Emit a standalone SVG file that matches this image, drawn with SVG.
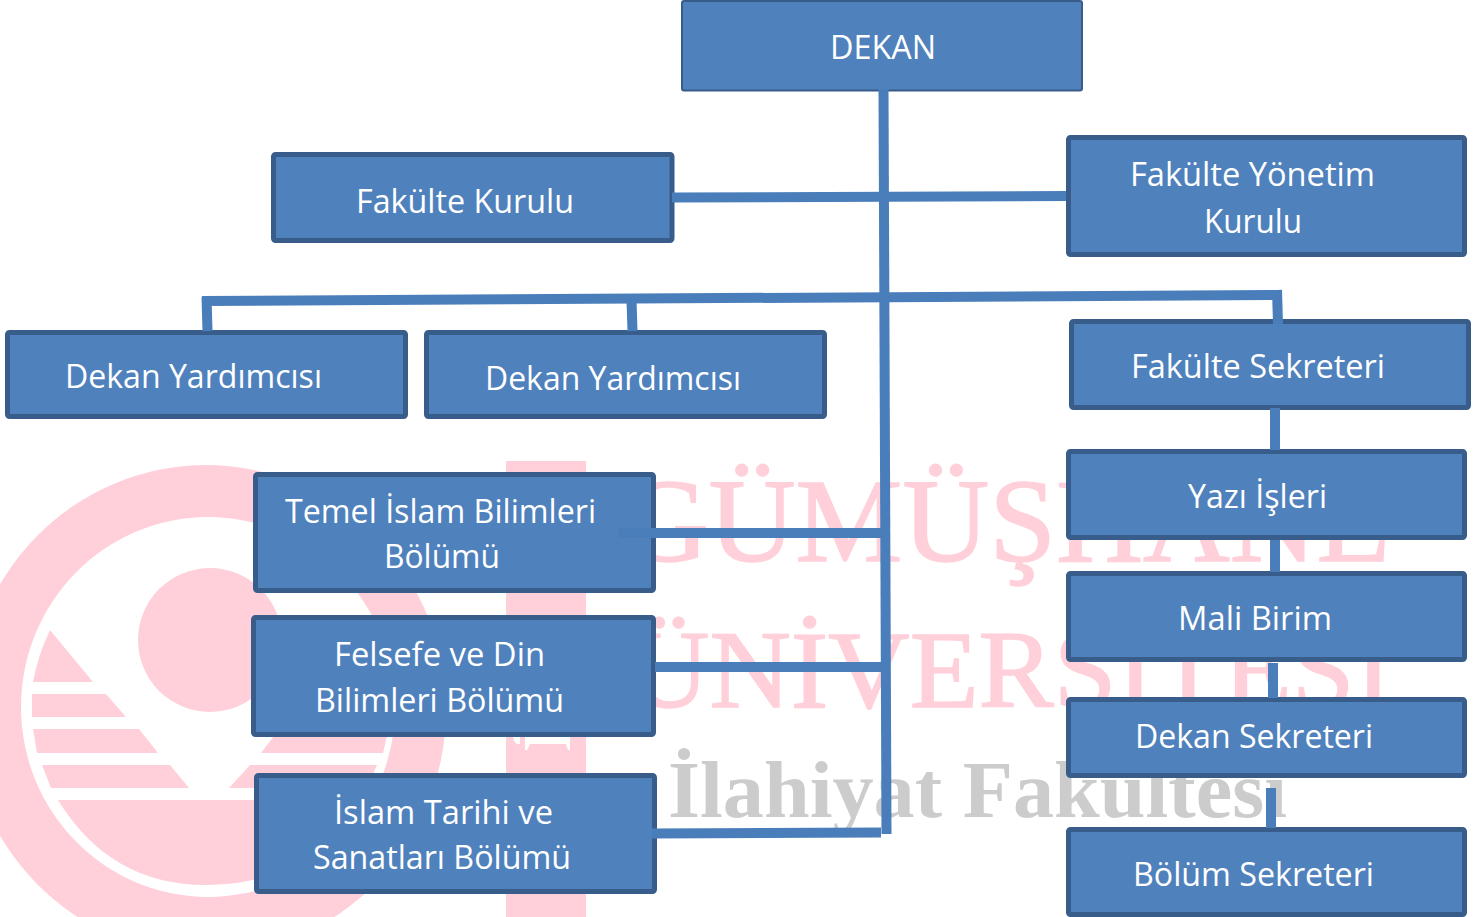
<svg xmlns="http://www.w3.org/2000/svg" width="1484" height="917" viewBox="0 0 1484 917">
<style>
.box{fill:#4f81bd;stroke:#385d8a;stroke-width:5;rx:2px}
.thin{stroke-width:2}
.lbl{font-family:"Open Sans","Liberation Sans",sans-serif;font-size:32px;fill:#fff}
.c{stroke:#4a7ebb;stroke-width:10;fill:none}
.wm{fill:#ffd0da}
.wt{font-family:"Liberation Serif",serif;fill:#ffd0da;stroke:#ffd0da;stroke-width:1.500}
</style>
<rect width="1484" height="917" fill="#fff"/>
<g id="watermark">
<ellipse class="wm" cx="206" cy="710" rx="240" ry="245"/>
<ellipse cx="208" cy="707" rx="187" ry="190" fill="#fff"/>
<circle class="wm" cx="210" cy="640" r="72"/>
<path class="wm" d="M50 630L93 682H33Q38 655 50 630Z"/>
<path class="wm" d="M32 694H106L126 717H32Z"/>
<path class="wm" d="M33 729H139L158 753H37Z"/>
<path class="wm" d="M42 765H170L189 788H51Z"/>
<path class="wm" d="M261 753L290 715H392L383 753Z"/>
<path class="wm" d="M250 765H377L367 788H229Z"/>
<path class="wm" d="M58 800H358Q310 885 206 885Q110 885 58 800Z"/>
<rect class="wm" x="506" y="461" width="80" height="456"/>
<path fill="#fff" d="M513 737H520V744Q514 745 513 737ZM525 737H570V750H568L566 744H530L527 750H525Z"/>
<text class="wt" x="622" y="561" font-size="119" textLength="768" lengthAdjust="spacingAndGlyphs">GÜMÜŞHANE</text>
<text class="wt" x="628" y="707" font-size="110" textLength="764" lengthAdjust="spacingAndGlyphs">ÜNİVERSİTESİ</text>
<text x="668" y="817" font-family="Liberation Serif,serif" font-weight="bold" font-size="80" fill="#ccc" textLength="619" lengthAdjust="spacingAndGlyphs">İlahiyat Fakültesi</text>
</g>
<g id="node-dekan"><rect class="box thin" x="682" y="1" width="400" height="89.5"/><text class="lbl" x="830" y="59" textLength="106" lengthAdjust="spacingAndGlyphs">DEKAN</text></g>
<g id="node-fakulte-kurulu"><rect class="box" x="273.500" y="154.500" width="398.500" height="86"/><text class="lbl" x="356" y="213" textLength="218" lengthAdjust="spacingAndGlyphs">Fakülte Kurulu</text></g>
<g id="node-fakulte-yonetim"><rect class="box" x="1068.500" y="137.500" width="396" height="117"/><text class="lbl" x="1130" y="186" textLength="245" lengthAdjust="spacingAndGlyphs">Fakülte Yönetim</text><text class="lbl" x="1204" y="233" textLength="98" lengthAdjust="spacingAndGlyphs">Kurulu</text></g>
<g id="node-dekan-yrd-1"><rect class="box" x="7.500" y="332.500" width="398" height="84"/><text class="lbl" x="65" y="388" textLength="257" lengthAdjust="spacingAndGlyphs">Dekan Yardımcısı</text></g>
<g id="node-dekan-yrd-2"><rect class="box" x="426.500" y="332.500" width="398" height="84"/><text class="lbl" x="485" y="390" textLength="256" lengthAdjust="spacingAndGlyphs">Dekan Yardımcısı</text></g>
<g id="node-fakulte-sekreteri"><rect class="box" x="1071.500" y="321.500" width="397" height="86"/><text class="lbl" x="1131" y="378" textLength="254" lengthAdjust="spacingAndGlyphs">Fakülte Sekreteri</text></g>
<g id="node-yazi-isleri"><rect class="box" x="1068.500" y="451.500" width="396" height="86"/><text class="lbl" x="1188" y="508" textLength="139" lengthAdjust="spacingAndGlyphs">Yazı İşleri</text></g>
<g id="node-mali-birim"><rect class="box" x="1068.500" y="573.500" width="396" height="86"/><text class="lbl" x="1178" y="630" textLength="154" lengthAdjust="spacingAndGlyphs">Mali Birim</text></g>
<g id="node-dekan-sekreteri"><rect class="box" x="1068.500" y="699.500" width="396" height="76"/><text class="lbl" x="1135" y="748" textLength="238" lengthAdjust="spacingAndGlyphs">Dekan Sekreteri</text></g>
<g id="node-bolum-sekreteri"><rect class="box" x="1068.500" y="829.500" width="396" height="85"/><text class="lbl" x="1133" y="886" textLength="241" lengthAdjust="spacingAndGlyphs">Bölüm Sekreteri</text></g>
<g id="node-temel"><rect class="box" x="255.500" y="474.500" width="398" height="116"/><text class="lbl" x="285" y="523" textLength="311" lengthAdjust="spacingAndGlyphs">Temel İslam Bilimleri</text><text class="lbl" x="384" y="568" textLength="116" lengthAdjust="spacingAndGlyphs">Bölümü</text></g>
<g id="node-felsefe"><rect class="box" x="253.500" y="617.500" width="400" height="117"/><text class="lbl" x="334" y="666" textLength="211" lengthAdjust="spacingAndGlyphs">Felsefe ve Din</text><text class="lbl" x="315" y="712" textLength="249" lengthAdjust="spacingAndGlyphs">Bilimleri Bölümü</text></g>
<g id="node-islam-tarihi"><rect class="box" x="256.500" y="775.500" width="398" height="116"/><text class="lbl" x="334" y="824" textLength="219" lengthAdjust="spacingAndGlyphs">İslam Tarihi ve</text><text class="lbl" x="313" y="869" textLength="258" lengthAdjust="spacingAndGlyphs">Sanatları Bölümü</text></g>
<g id="connectors">
<path class="c" d="M883.500 89L886.500 834"/>
<path class="c" d="M672 197.500L1066 196"/>
<path class="c" d="M202 301L1278 295"/>
<path class="c" d="M206.500 297L207.500 331"/>
<path class="c" d="M631.500 300L632.500 331"/>
<path class="c" d="M1277 290L1278 324"/>
<path class="c" d="M1275 408V450"/>
<path class="c" d="M1275 540V572"/>
<path class="c" d="M1273 663V698"/>
<path class="c" d="M1271 788V828"/>
<path class="c" d="M618 533H881"/>
<path class="c" d="M655 667H881"/>
<path class="c" d="M652 833.500L881 832.500"/>
</g>
</svg>
